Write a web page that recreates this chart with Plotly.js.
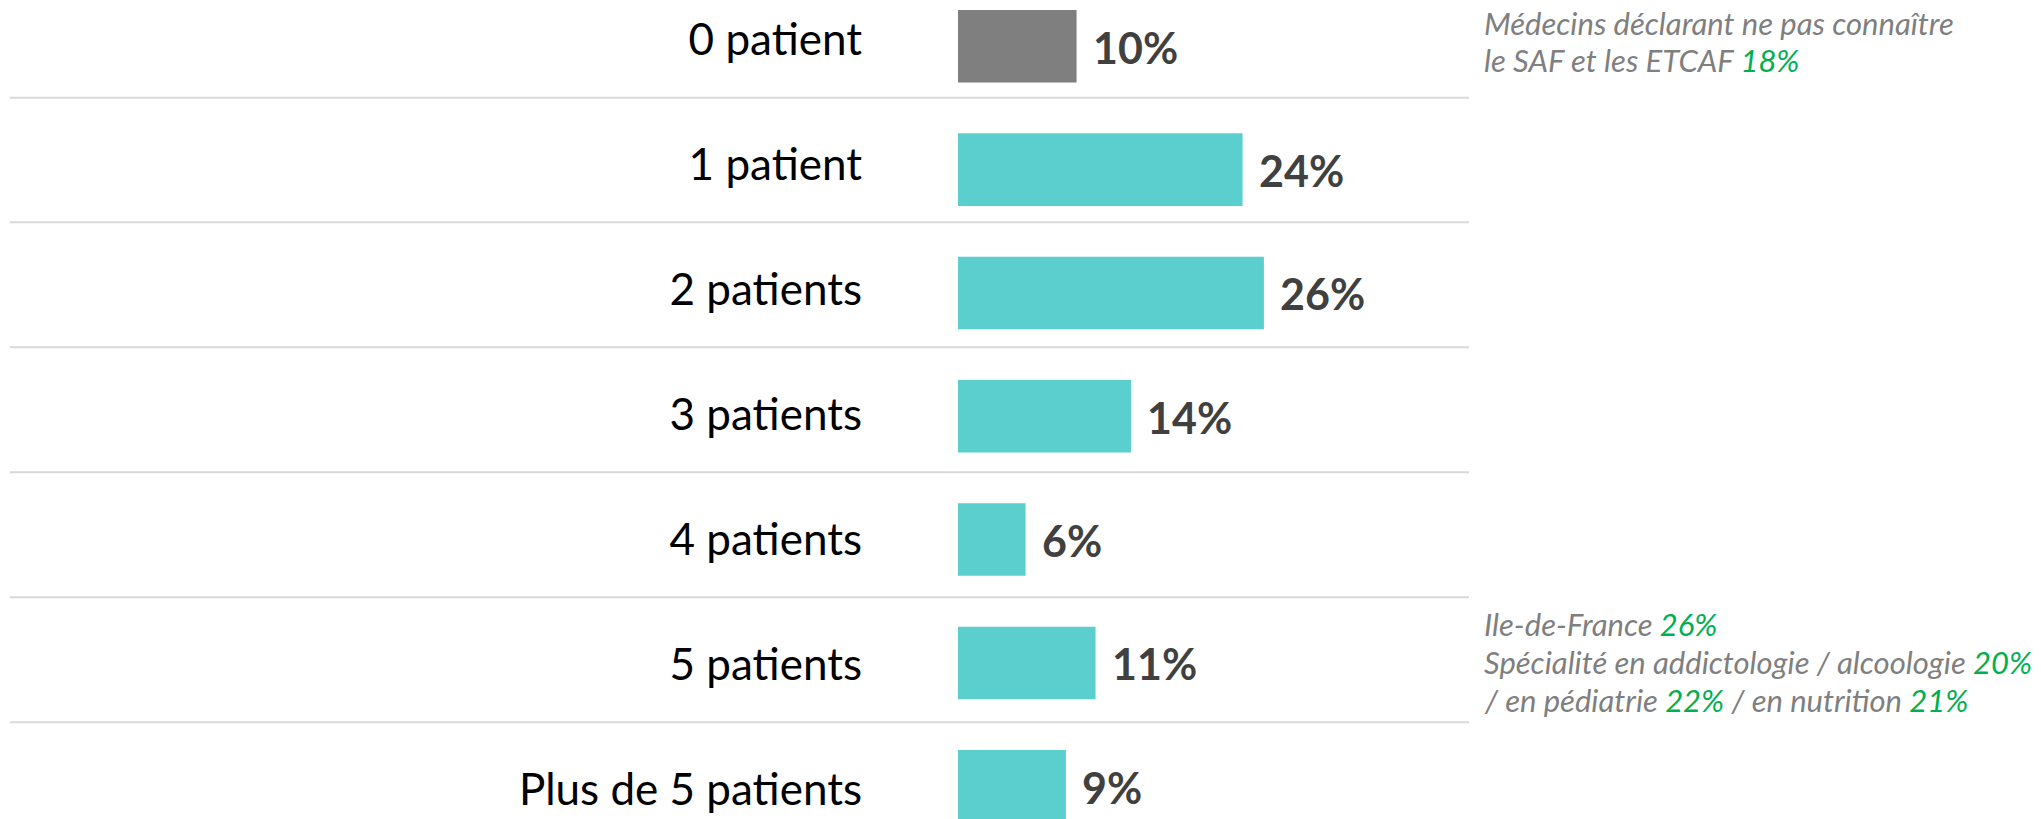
<!DOCTYPE html>
<html>
<head>
<meta charset="utf-8">
<script src="https://cdn.plot.ly/plotly-3.0.1.min.js"></script>
<style>
  html, body { margin: 0; padding: 0; background: #ffffff; }
  #chart { width: 2041px; height: 819px; }
</style>
</head>
<body>
<div id="chart"></div>
<script>
// ---- data ----
const categories = ['0 patient', '1 patient', '2 patients', '3 patients', '4 patients', '5 patients', 'Plus de 5 patients'];
const values = [10.0, 24.0, 25.8, 14.6, 5.7, 11.6, 9.1];
const valueLabels = ['10%', '24%', '26%', '14%', '6%', '11%', '9%'];

const noteTopLines = [
  [['Médecins déclarant ne pas connaître', false]],
  [['le SAF et les ETCAF ', false], ['18%', true]]
];
const noteBottomLines = [
  [['Ile-de-France ', false], ['26%', true]],
  [['Spécialité en addictologie / alcoologie ', false], ['20%', true]],
  [['/ en pédiatrie ', false], ['22%', true], [' / en nutrition ', false], ['21%', true]]
];

// ---- layout constants ----
const W = 2041, H = 819;
const GRAY_BAR = '#7f7f7f', TEAL = '#5bcfcd';
const NOTE_GRAY = '#7f7f7f', GREEN = '#00b050';
const FONT = 'Lato, "Open Sans", sans-serif';

const px = x => x / W;
const py = y => 1 - y / H;

const barColors = categories.map((c, i) => (i === 0 ? GRAY_BAR : TEAL));

const barTrace = {
  type: 'bar',
  orientation: 'h',
  x: values,
  y: categories,
  width: 0.588,
  marker: { color: barColors, line: { width: 0 } },
  hoverinfo: 'skip',
  showlegend: false
};

// invisible companion trace so the label axis (yaxis2) is drawn
const labelTrace = {
  type: 'scatter',
  mode: 'markers',
  x: categories.map(() => 0),
  y: categories,
  yaxis: 'y2',
  marker: { opacity: 0, size: 1 },
  hoverinfo: 'skip',
  showlegend: false
};

const annotations = [];
// value labels
values.forEach((v, i) => {
  annotations.push({
    x: v, y: categories[i], xref: 'x', yref: 'y',
    text: valueLabels[i],
    showarrow: false,
    xanchor: 'left', yanchor: 'middle',
    xshift: 14, yshift: -1,
    font: { family: FONT, size: 43, color: '#404040', weight: 'bold' }
  });
});

function lineText(segs) {
  return segs.map(([t, hi]) => hi ? `<span style="color:${GREEN}">${t}</span>` : t).join('');
}
const noteFont = { family: FONT, size: 31, color: NOTE_GRAY, style: 'italic' };
const topMid = [22.5, 60.2];
noteTopLines.forEach((segs, i) => {
  annotations.push({
    x: px(1482), y: py(topMid[i]), xref: 'paper', yref: 'paper',
    text: lineText(segs), showarrow: false, xanchor: 'left', yanchor: 'middle',
    font: noteFont
  });
});
const botMid = [623.5, 661.5, 699.5];
noteBottomLines.forEach((segs, i) => {
  annotations.push({
    x: px(1482), y: py(botMid[i]), xref: 'paper', yref: 'paper',
    text: lineText(segs), showarrow: false, xanchor: 'left', yanchor: 'middle',
    font: noteFont
  });
});

const sepY = [97.7, 222.3, 347.3, 472.3, 597.3, 722.3];
const shapes = sepY.map(y => ({
  type: 'line', xref: 'paper', yref: 'paper',
  x0: px(10), x1: px(1469), y0: py(y), y1: py(y),
  line: { color: '#d9d9d9', width: 2 }
}));

const layout = {
  width: W, height: H,
  margin: { l: 0, r: 0, t: 0, b: 0, pad: 0 },
  paper_bgcolor: '#ffffff',
  plot_bgcolor: 'rgba(0,0,0,0)',
  showlegend: false,
  xaxis: {
    domain: [px(958), px(1469)],
    range: [0, (1469 - 958) / 11.857],
    showgrid: false, zeroline: false, showline: false,
    showticklabels: false, ticks: '', fixedrange: true
  },
  // bar axis (row pitch ~123.3 px)
  yaxis: {
    type: 'category',
    categoryorder: 'array', categoryarray: categories,
    range: [6.2654, -0.3754],
    domain: [0, 1],
    showgrid: false, zeroline: false, showline: false,
    ticks: '', showticklabels: false,
    fixedrange: true
  },
  // label axis (row pitch ~125 px, aligned with the separators)
  yaxis2: {
    type: 'category',
    overlaying: 'y', side: 'left', anchor: 'x',
    categoryorder: 'array', categoryarray: categories,
    range: [6.1816, -0.3704],
    showgrid: false, zeroline: false, showline: false,
    ticks: '',
    ticklabelstandoff: 95,
    ticklabelshift: 7,
    tickfont: { family: FONT, size: 44, color: '#000000' },
    fixedrange: true
  },
  shapes: shapes,
  annotations: annotations
};

Plotly.newPlot('chart', [barTrace, labelTrace], layout, { displayModeBar: false, staticPlot: true });
</script>
</body>
</html>
